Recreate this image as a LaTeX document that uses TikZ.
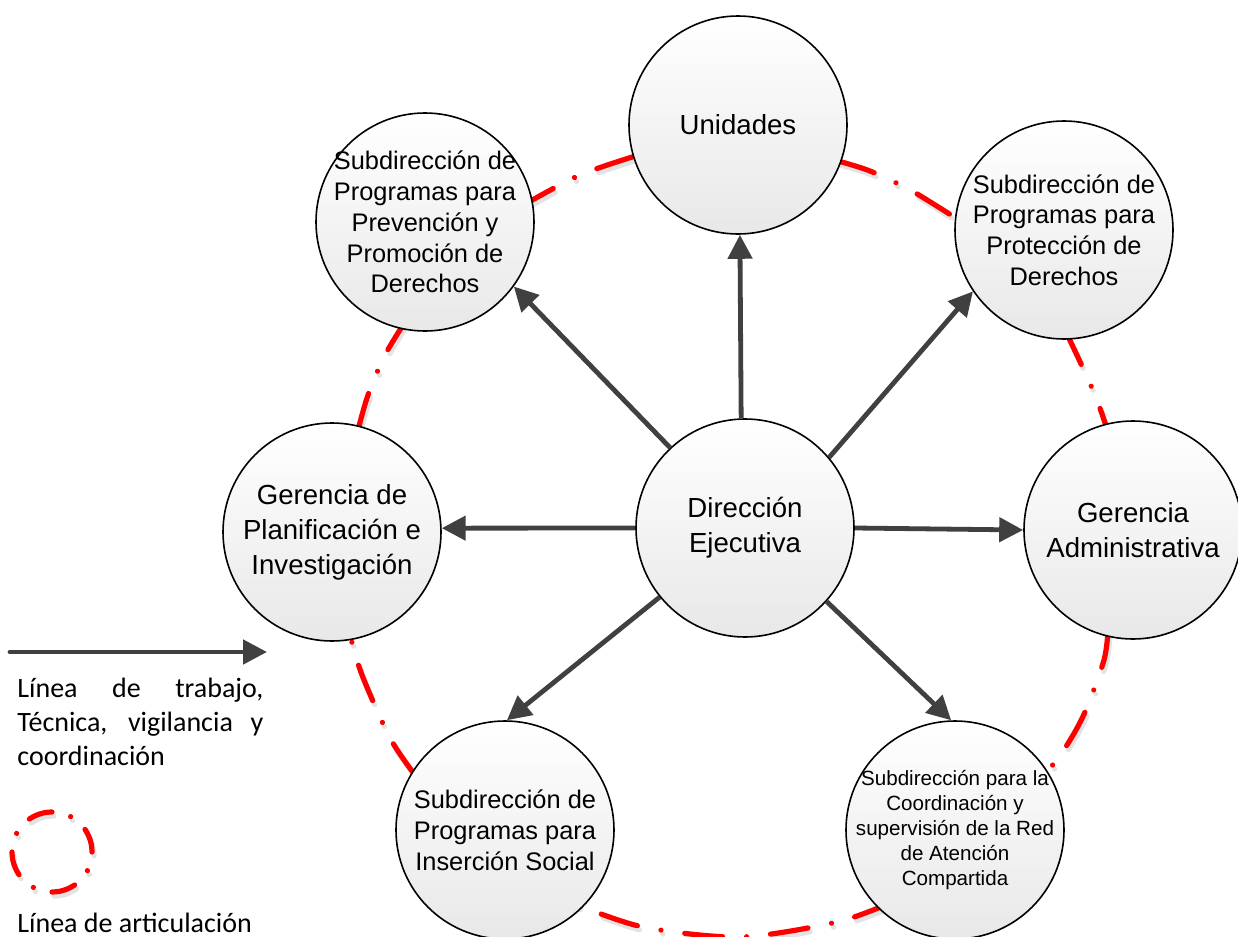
\documentclass[tikz,border=0pt]{standalone}
\usepackage{fontspec}
\setmainfont{Liberation Sans}
\newfontfamily\legendfont{Carlito}
\usetikzlibrary{arrows.meta}
\definecolor{arrowgray}{HTML}{404040}
\definecolor{shadegray}{HTML}{E8E8E8}

\begin{document}
\begin{tikzpicture}[x=0.5pt,y=-0.5pt,
    unit/.style={circle,draw=black,line width=0.8pt,top color=white,bottom color=shadegray,
        minimum size=109pt,inner sep=-8pt,align=center},
    bigtext/.style={font=\fontsize{13.8pt}{17.5pt}\selectfont},
    midtext/.style={font=\fontsize{12.7pt}{15.4pt}\selectfont},
    smalltext/.style={font=\fontsize{10.3pt}{12.5pt}\selectfont},
    flow/.style={draw=arrowgray,line width=2.4pt,-{Triangle[length=12pt,width=12pt]}},
    artic/.style={draw=red,line width=2.6pt,line cap=round,
        dash pattern=on 19pt off 12pt on 0.01pt off 12pt},
    articshade/.style={artic,draw=gray!22,shift={(2,4)}},
    legtext/.style={font=\legendfont\fontsize{14pt}{17pt}\selectfont,inner sep=0pt}]
    \useasboundingbox (0,0) rectangle (1238,937);

    % linea de articulacion (por detras)
    \foreach \sty in {articshade,artic}{
        \draw[\sty] plot[smooth] coordinates {(520,207) (580,175) (645,153)};
        \draw[\sty] plot[smooth] coordinates {(838,161) (870,171) (912,191) (962,222)};
        \draw[\sty] plot[smooth] coordinates {(1065,330) (1082,366) (1097,400) (1108,432)};
        \draw[\sty] plot[smooth] coordinates {(1108,630) (1104,660) (1085,712) (1067,745) (1045,775)};
        \draw[\sty] plot[smooth] coordinates {(890,903) (837,922) (740,937) (643,927) (575,904)};
        \draw[\sty] plot[smooth] coordinates {(415,775) (390,738) (362,675) (350,635)};
        \draw[\sty] plot[smooth] coordinates {(358,430) (368,395) (385,355) (405,322)};
    }

    \node[unit,bigtext] (dir) at (745,528) {Dirección\\Ejecutiva};
    \node[unit,bigtext] (uni) at (738,125) {Unidades};
    \node[unit,midtext] (prev) at (425,222) {Subdirección de\\Programas para\\Prevención y\\Promoción de\\Derechos};
    \node[unit,midtext] (prot) at (1064,230) {Subdirección de\\Programas para\\Protección de\\Derechos};
    \node[unit,bigtext] (plan) at (332,532) {Gerencia de\\Planificación e\\Investigación};
    \node[unit,bigtext] (adm) at (1133,530) {Gerencia\\Administrativa};
    \node[unit,midtext] (ins) at (505,830) {Subdirección de\\Programas para\\Inserción Social};
    \node[unit,smalltext] (red) at (955,830) {Subdirección para la\\Coordinación y\\supervisión de la Red\\de Atención\\Compartida};

    \draw[flow] (dir.92) -- (uni.-89);
    \draw[flow] (dir.133) -- (prev.-36);
    \draw[flow] (dir.40) -- (prot.214);
    \draw[flow] (dir.180) -- (plan.2);
    \draw[flow] (dir.0) -- (adm.180);
    \draw[flow] (dir.219) -- (ins.89);
    \draw[flow] (dir.318) -- (red.92);

    % leyenda
    \coordinate (legA) at (10,652);
    \coordinate (legB) at (267,652);
    \draw[flow,line cap=round] (legA) -- (legB);
    \node[legtext,text width=123pt,align=justify,anchor=north west] (legwork) at (17,678)
        {Línea de trabajo,\linebreak Técnica, vigilancia y\linebreak coordinación};
    \draw[articshade,dash pattern=on 12pt off 9.7pt on 0.01pt off 9.7pt] (52,852) circle (20pt);
    \draw[artic,dash pattern=on 12pt off 9.7pt on 0.01pt off 9.7pt] (52,852) circle (20pt);
    \node[legtext,anchor=base west] (legartic) at (17,932) {Línea de articulación};
\end{tikzpicture}
\end{document}
